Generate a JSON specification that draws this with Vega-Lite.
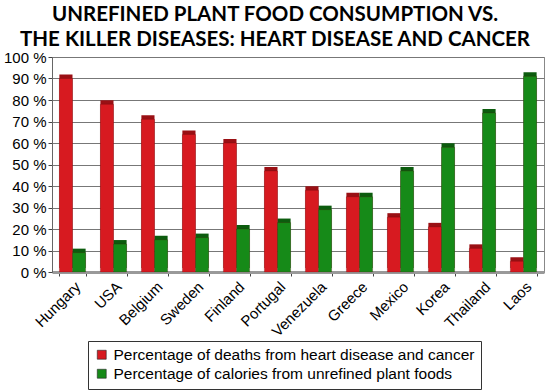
{
  "$schema": "https://vega.github.io/schema/vega-lite/v6.json",
  "width": 492,
  "height": 215,
  "autosize": {"type": "none"},
  "padding": {"left": 52, "top": 57, "right": 6, "bottom": 119},
  "background": "white",
  "title": {
    "text": ["UNREFINED PLANT FOOD CONSUMPTION VS.", "THE KILLER DISEASES: HEART DISEASE AND CANCER"],
    "font": "Lato",
    "fontWeight": "bold",
    "fontSize": 20.5,
    "lineHeight": 25,
    "offset": 0,
    "dx": -23,
    "color": "black"
  },
  "config": {
    "view": {"stroke": "#888", "strokeWidth": 1}
  },
  "resolve": {"scale": {"color": "independent"}, "legend": {"color": "independent"}},
  "data": {
    "values": [
      {"country": "Hungary", "series": "Percentage of deaths from heart disease and cancer", "value": 90},
      {"country": "Hungary", "series": "Percentage of calories from unrefined plant foods", "value": 9},
      {"country": "USA", "series": "Percentage of deaths from heart disease and cancer", "value": 78},
      {"country": "USA", "series": "Percentage of calories from unrefined plant foods", "value": 13},
      {"country": "Belgium", "series": "Percentage of deaths from heart disease and cancer", "value": 71},
      {"country": "Belgium", "series": "Percentage of calories from unrefined plant foods", "value": 15},
      {"country": "Sweden", "series": "Percentage of deaths from heart disease and cancer", "value": 64},
      {"country": "Sweden", "series": "Percentage of calories from unrefined plant foods", "value": 16},
      {"country": "Finland", "series": "Percentage of deaths from heart disease and cancer", "value": 60},
      {"country": "Finland", "series": "Percentage of calories from unrefined plant foods", "value": 20},
      {"country": "Portugal", "series": "Percentage of deaths from heart disease and cancer", "value": 47},
      {"country": "Portugal", "series": "Percentage of calories from unrefined plant foods", "value": 23},
      {"country": "Venezuela", "series": "Percentage of deaths from heart disease and cancer", "value": 38},
      {"country": "Venezuela", "series": "Percentage of calories from unrefined plant foods", "value": 29},
      {"country": "Greece", "series": "Percentage of deaths from heart disease and cancer", "value": 35},
      {"country": "Greece", "series": "Percentage of calories from unrefined plant foods", "value": 35},
      {"country": "Mexico", "series": "Percentage of deaths from heart disease and cancer", "value": 25.5},
      {"country": "Mexico", "series": "Percentage of calories from unrefined plant foods", "value": 47},
      {"country": "Korea", "series": "Percentage of deaths from heart disease and cancer", "value": 21},
      {"country": "Korea", "series": "Percentage of calories from unrefined plant foods", "value": 58},
      {"country": "Thailand", "series": "Percentage of deaths from heart disease and cancer", "value": 11},
      {"country": "Thailand", "series": "Percentage of calories from unrefined plant foods", "value": 74},
      {"country": "Laos", "series": "Percentage of deaths from heart disease and cancer", "value": 5},
      {"country": "Laos", "series": "Percentage of calories from unrefined plant foods", "value": 91}
    ]
  },
  "encoding": {
    "x": {
      "field": "country",
      "type": "nominal",
      "sort": null,
      "scale": {"paddingInner": 0.36, "paddingOuter": 0.18},
      "axis": {
        "title": null,
        "labelAngle": -45,
        "labelAlign": "right",
        "labelBaseline": "top",
        "labelFont": "Liberation Sans",
        "labelFontSize": 15,
        "labelColor": "black",
        "labelPadding": 3,
        "tickBand": "extent",
        "tickColor": "#444",
        "tickSize": 4,
        "domainColor": "#999",
        "domainWidth": 3
      }
    },
    "xOffset": {"field": "series", "sort": null},
    "y": {
      "field": "value",
      "type": "quantitative",
      "scale": {"domain": [0, 100]},
      "axis": {
        "title": null,
        "values": [0, 10, 20, 30, 40, 50, 60, 70, 80, 90, 100],
        "labelExpr": "datum.value + ' %'",
        "labelFont": "Liberation Sans",
        "labelFontSize": 15,
        "labelColor": "black",
        "labelPadding": 2,
        "tickSize": 4,
        "tickColor": "#444",
        "domainColor": "#666",
        "gridColor": "#777",
        "gridWidth": 1
      }
    }
  },
  "layer": [
    {
      "mark": {"type": "bar", "xOffset": 4, "x2Offset": 4, "yOffset": -4, "y2Offset": -4},
      "encoding": {
        "color": {
          "field": "series",
          "type": "nominal",
          "sort": null,
          "scale": {"range": ["#9a1014", "#0c5c0e"]},
          "legend": null
        }
      }
    },
    {
      "mark": {"type": "bar", "stroke": "#5a0a0a", "strokeWidth": 0.4, "strokeOpacity": 0.6},
      "encoding": {
        "color": {
          "field": "series",
          "type": "nominal",
          "sort": null,
          "scale": {"range": ["#d71a20", "#168a18"]},
          "legend": {
            "title": null,
            "orient": "none",
            "legendX": 36,
            "legendY": 284,
            "direction": "vertical",
            "strokeColor": "#333",
            "padding": 6,
            "symbolType": "square",
            "symbolSize": 80,
            "symbolStrokeColor": "#222",
            "symbolStrokeWidth": 0.6,
            "labelFont": "Liberation Sans",
            "labelFontSize": 15.5,
            "labelColor": "black",
            "labelLimit": 600,
            "rowPadding": 2
          }
        }
      }
    }
  ]
}
